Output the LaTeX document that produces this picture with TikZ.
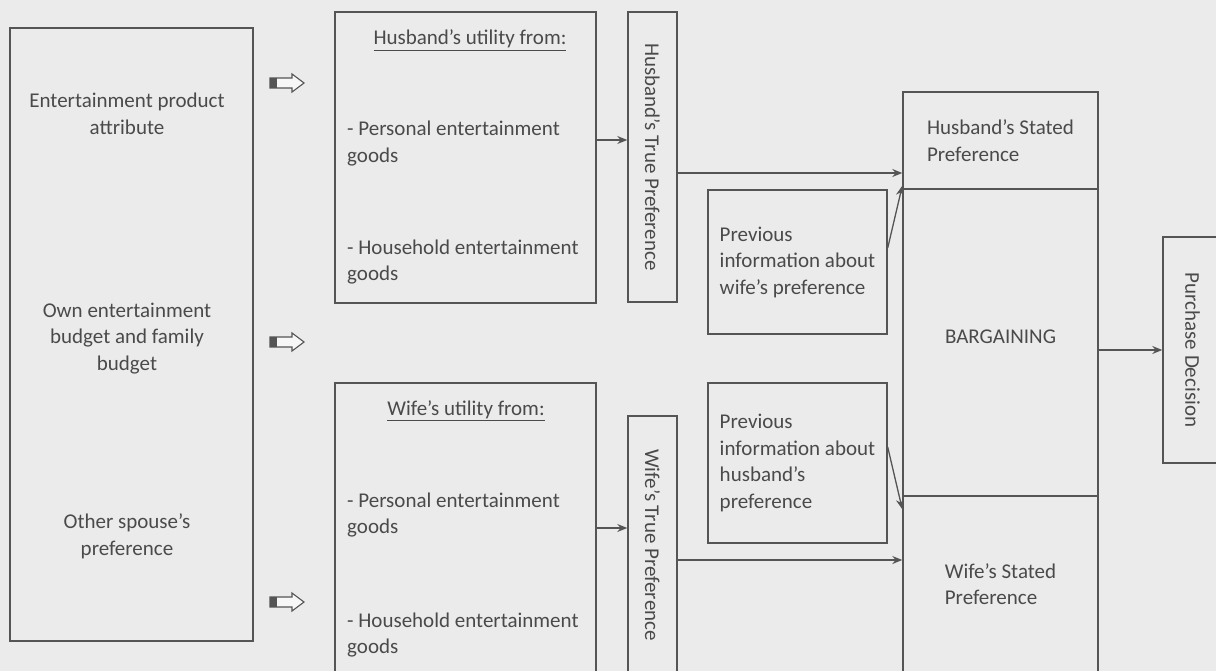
\documentclass[tikz,border=0pt]{standalone}
\usepackage{fontspec}
\setmainfont{Carlito}
\usetikzlibrary{arrows.meta,calc}
\definecolor{paper}{HTML}{EBEBEB}
\definecolor{ink}{HTML}{4A4A4A}
\definecolor{rule}{HTML}{555555}
\tikzset{
  box/.style={draw=rule, line width=1.4pt, inner sep=0pt, rectangle},
  txt/.style={text=ink, inner sep=0pt},
  conn/.style={draw=rule, line width=1.3pt, ->},
  hollowarrow/.style={draw=rule, fill=white!60!paper, line width=1.1pt}
}
\newcommand{\HollowArrow}[2]{
  \coordinate (#1) at #2;
  \filldraw[hollowarrow] ($(#1)+(-17,-5)$) -- ++(22,0) -- ++(0,-4) -- ++(12,9)
    -- ++(-12,9) -- ++(0,-4) -- ++(-22,0) -- cycle;
  \fill[rule] ($(#1)+(-17,-5)$) rectangle ($(#1)+(-10,5)$);
}
\begin{document}
\begin{tikzpicture}[x=1pt, y=-1pt, font=\fontsize{21pt}{26.5pt}\selectfont,
  >={Stealth[length=10pt,width=8pt]}]
\clip (0,0) rectangle (1216,671);
\fill[paper] (0,0) rectangle (1216,671);

% inputs
\node[box, minimum width=243pt, minimum height=613pt] (inputs) at (131.5,334.5) {};
\node[txt, align=center] (attrtxt) at (127,114) {Entertainment product\\attribute};
\node[txt, align=center] (budgettxt) at (127,338.5) {Own entertainment\\budget and family\\budget};
\node[txt, align=center] (spousetxt) at (127,536.5) {Other spouse’s\\preference};

\HollowArrow{harr1}{(287,83)}
\HollowArrow{harr2}{(287,342)}
\HollowArrow{harr3}{(287,602)}

% utilities
\node[box, minimum width=261pt, minimum height=291pt] (hutil) at (465.5,157.5) {};
\node[txt, anchor=base] (hhead) at (470,45) {\underline{Husband’s utility from:}};
\node[txt, anchor=west, align=left] (hpers) at (347,143.5) {- Personal entertainment\\goods};
\node[txt, anchor=west, align=left] (hhouse) at (347,262) {- Household entertainment\\goods};

\node[box, minimum width=261pt, minimum height=291pt] (wutil) at (465.5,528.5) {};
\node[txt, anchor=base] (whead) at (466,415) {\underline{Wife’s utility from:}};
\node[txt, anchor=west, align=left] (wpers) at (347,515) {- Personal entertainment\\goods};
\node[txt, anchor=west, align=left] (whouse) at (347,635) {- Household entertainment\\goods};

% true preferences
\node[box, minimum width=49pt, minimum height=290pt] (htrue) at (652.5,157) {};
\node[txt, rotate=-90] (htruetxt) at (htrue.center) {Husband’s True Preference};
\node[box, minimum width=49pt, minimum height=258pt] (wtrue) at (652.5,545) {};
\node[txt, rotate=-90] (wtruetxt) at (wtrue.center) {Wife’s True Preference};

% previous information
\node[box, minimum width=179pt, minimum height=144pt, text=ink, align=left] (hprev) at (797.5,262)
  {Previous\\information about\\wife’s preference};
\node[box, minimum width=179pt, minimum height=160pt, text=ink, align=left] (wprev) at (797.5,463)
  {Previous\\information about\\husband’s\\preference};

% bargaining
\node[box, minimum width=195pt, minimum height=97pt, text=ink, align=left] (hstated) at (1000.5,140.5)
  {Husband’s Stated\\Preference};
\node[box, minimum width=195pt, minimum height=307pt] (barg) at (1000.5,342.5) {};
\node[txt] (bargtxt) at (1000.5,337) {BARGAINING};
\node[box, minimum width=195pt, minimum height=176pt, text=ink, align=left] (wstated) at (1000.5,584)
  {Wife’s Stated\\Preference};

\node[box, minimum width=59pt, minimum height=226pt] (purch) at (1192.5,350) {};
\node[txt, rotate=-90] (purchtxt) at (purch.center) {Purchase Decision};

% connectors
\coordinate (hflow) at (0,140);
\coordinate (wflow) at (0,528);
\coordinate (hstate) at (0,173);
\coordinate (wstate) at (0,560);
\draw[conn] (hutil.east |- hflow) -- (htrue.west |- hflow);
\draw[conn] (wutil.east |- wflow) -- (wtrue.west |- wflow);
\draw[conn] (htrue.east |- hstate) -- (hstated.west |- hstate);
\draw[conn] (wtrue.east |- wstate) -- (wstated.west |- wstate);
\draw[conn] ([yshift=14pt]hprev.east) -- ([yshift=4pt]hstated.south west);
\draw[conn] ([yshift=16pt]wprev.east) -- ([yshift=-14pt]wstated.north west);
\draw[conn] (barg.east |- purch.west) -- (purch.west);
\end{tikzpicture}
\end{document}
